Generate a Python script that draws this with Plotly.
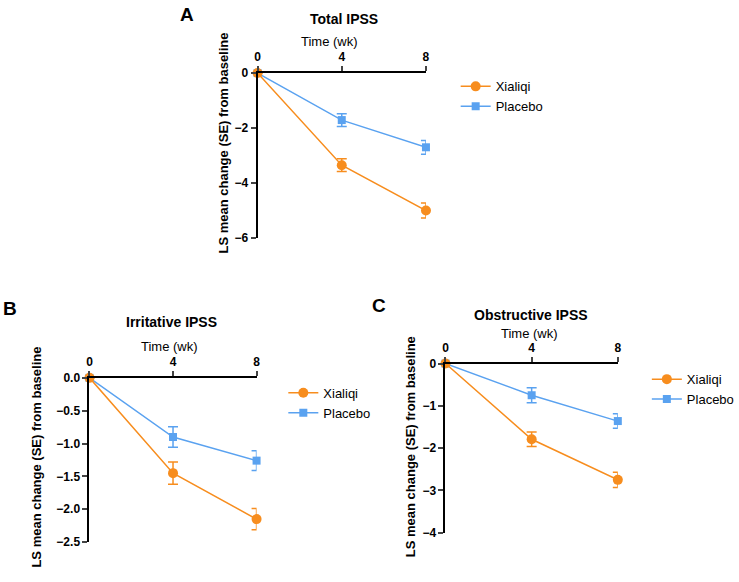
import plotly.graph_objects as go

W, H = 739, 582
weeks = [0, 4, 8]

# Panel A: Total IPSS
a_xia = [0, -3.35, -5.0]
a_xia_se = [0, 0.23, 0.27]
a_pla = [0, -1.71, -2.70]
a_pla_se = [0, 0.23, 0.25]
# Panel B: Irritative IPSS
b_xia = [0, -1.45, -2.15]
b_xia_se = [0, 0.17, 0.16]
b_pla = [0, -0.90, -1.26]
b_pla_se = [0, 0.155, 0.15]
# Panel C: Obstructive IPSS
c_xia = [0, -1.79, -2.75]
c_xia_se = [0, 0.17, 0.18]
c_pla = [0, -0.75, -1.36]
c_pla_se = [0, 0.18, 0.17]

ORANGE = "#F78D1E"
BLUE = "#5AA2F0"
FONT = "Arial, Liberation Sans, sans-serif"

def px(x):
    return x / W

def py(y):
    return 1 - y / H

fig = go.Figure()

panels = [
    ("x", "y", "legend", a_xia, a_xia_se, a_pla, a_pla_se),
    ("x2", "y2", "legend2", b_xia, b_xia_se, b_pla, b_pla_se),
    ("x3", "y3", "legend3", c_xia, c_xia_se, c_pla, c_pla_se),
]

for xa, ya, lg, xv, xse, pv, pse in panels:
    fig.add_trace(go.Scatter(
        x=weeks, y=pv, name="Placebo", xaxis=xa, yaxis=ya, legend=lg,
        mode="lines+markers", cliponaxis=False, legendrank=2,
        line=dict(color=BLUE, width=1.4),
        marker=dict(symbol="square", size=8, color=BLUE),
        error_y=dict(type="data", array=pse, color=BLUE, thickness=1.5, width=5),
    ))
    fig.add_trace(go.Scatter(
        x=weeks, y=xv, name="Xialiqi", xaxis=xa, yaxis=ya, legend=lg,
        mode="lines+markers", cliponaxis=False, legendrank=1,
        line=dict(color=ORANGE, width=1.5),
        marker=dict(symbol="circle", size=10, color=ORANGE),
        error_y=dict(type="data", array=xse, color=ORANGE, thickness=1.5, width=5),
    ))

def xaxis_cfg(dom, anchor):
    return dict(domain=dom, anchor=anchor, side="top", range=[0, 8],
                tickvals=[0, 4, 8], ticks="outside", ticklen=5, tickwidth=2,
                showline=True, linewidth=2, linecolor="black", showgrid=False,
                zeroline=False, tickfont=dict(family=FONT, size=12, color="black", weight="bold"))

def yaxis_cfg(dom, anchor, rng, dtick, fmt):
    return dict(domain=dom, anchor=anchor, range=rng, dtick=dtick, tickformat=fmt,
                ticks="outside", ticklen=5, tickwidth=2,
                showline=True, linewidth=2, linecolor="black", showgrid=False,
                zeroline=False, tickfont=dict(family=FONT, size=12, color="black", weight="bold"))

legend_common = dict(bgcolor="rgba(0,0,0,0)", borderwidth=0, xanchor="left", yanchor="top",
                     font=dict(family=FONT, size=13, color="black"), tracegroupgap=0,
                     itemwidth=30)

fig.update_layout(
    width=W, height=H, margin=dict(l=0, r=0, t=0, b=0),
    paper_bgcolor="white", plot_bgcolor="white",
    showlegend=True,
    xaxis=xaxis_cfg([px(257), px(427)], "y"),
    yaxis=yaxis_cfg([py(236.7), py(67.7)], "x", [-6, 0], 2, "d"),
    xaxis2=xaxis_cfg([px(87.3), px(256)], "y2"),
    yaxis2=yaxis_cfg([py(548.3), py(380)], "x2", [-2.5, 0], 0.5, ".1f"),
    xaxis3=xaxis_cfg([px(446.7), px(620.7)], "y3"),
    yaxis3=yaxis_cfg([py(538.7), py(365.3)], "x3", [-4, 0], 1, "d"),
    legend=dict(x=px(457), y=py(66), **legend_common),
    legend2=dict(x=px(283), y=py(380), **legend_common),
    legend3=dict(x=px(650), y=py(366), **legend_common),
)

annots = [
    # panel letters
    ("A", 186, 8, 19, True, 0),
    ("B", 7, 309, 19, True, 0),
    ("C", 380, 306, 19, True, 0),
    # titles
    ("Total IPSS", 344, 12, 14, True, 0),
    ("Irritative IPSS", 170, 323, 14, True, 0),
    ("Obstructive IPSS", 533, 316, 14, True, 0),
    # x axis titles
    ("Time (wk)", 330, 35, 13, False, 0),
    ("Time (wk)", 168, 348, 13, False, 0),
    ("Time (wk)", 532, 335, 13, False, 0),
    # y axis titles
    ("LS mean change (SE) from baseline", 223, 139, 13, True, -90),
    ("LS mean change (SE) from baseline", 34, 461, 13, True, -90),
    ("LS mean change (SE) from baseline", 411, 451, 13, True, -90),
]
for text, x, y, size, bold, ang in annots:
    fig.add_annotation(
        text=text, x=px(x), y=py(y), xref="paper", yref="paper",
        xanchor="center", yanchor="middle", showarrow=False, textangle=ang,
        font=dict(family=FONT, size=size, color="black", weight="bold" if bold else "normal"),
    )

fig.write_html("out.html")
